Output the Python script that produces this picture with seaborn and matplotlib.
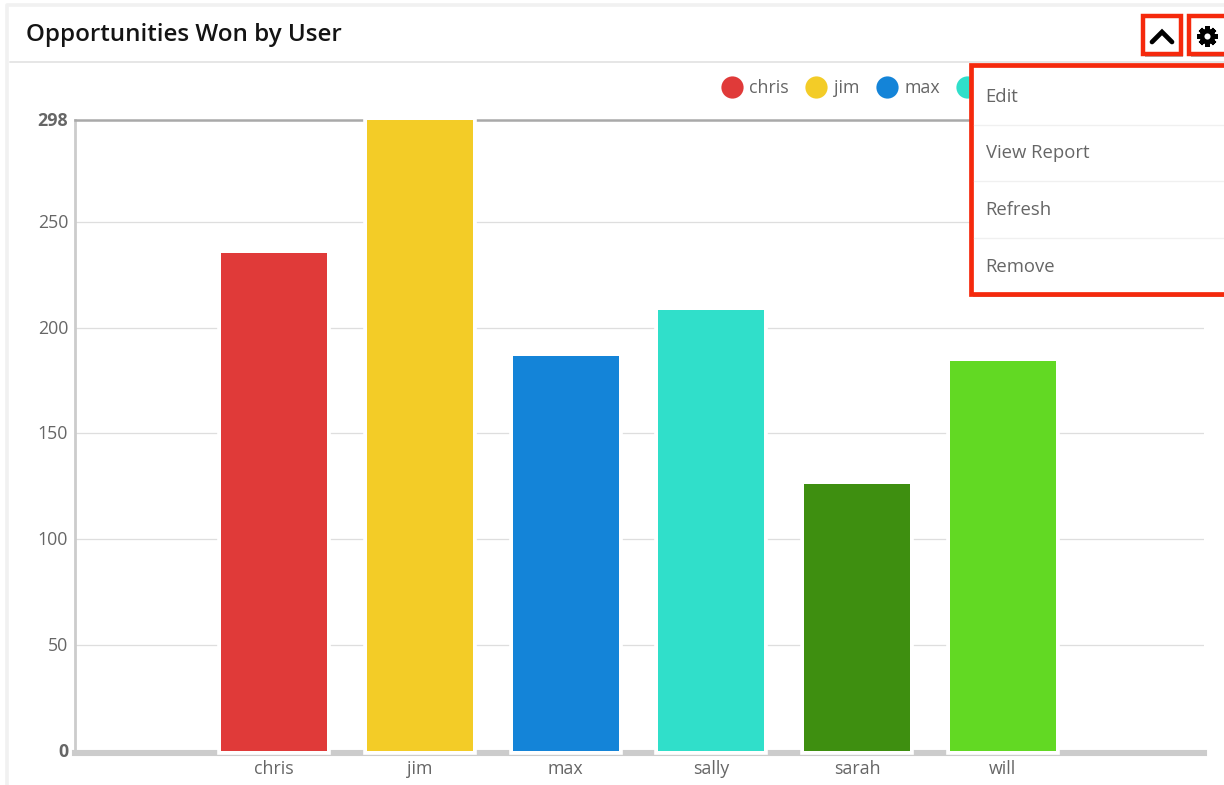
import matplotlib
matplotlib.use("Agg")
import matplotlib.pyplot as plt
import matplotlib.patheffects as pe
from matplotlib.lines import Line2D
from matplotlib.patches import Rectangle
from matplotlib.transforms import ScaledTranslation
import seaborn as sns

users = ["chris", "jim", "max", "sally", "sarah", "will"]
won = [235, 298, 186.5, 208.5, 126, 184]
colors = ["#e03a39", "#f3cc27", "#1484d8", "#30dfca", "#3e8f10", "#62d923"]
yticks = [0, 50, 100, 150, 200, 250, 298]
title = "Opportunities Won by User"
menu_items = ["Edit", "View Report", "Refresh", "Remove"]

sns.set_theme(style="white")
plt.rcParams["font.family"] = ["Open Sans", "DejaVu Sans"]

W, H = 1224, 785
fig = plt.figure(figsize=(W / 100, H / 100), dpi=100, facecolor="white")
ax = fig.add_axes([75 / W, 1 - 751 / H, (1204 - 75) / W, (751 - 120) / H])

sns.barplot(x=users, y=won, hue=users, palette=colors, width=0.727, legend=False,
            saturation=1, ax=ax, zorder=3)
for bar in ax.patches:
    bar.set_clip_on(False)
    bar.set_linewidth(0)
    bar.set_path_effects([pe.withStroke(linewidth=5.5, foreground="white")])

ax.set_xlim(-1.365, 6.38)
ax.set_ylim(0, 298)
ax.set_yticks(yticks)
ax.set_xlabel("")
ax.set_ylabel("")
ax.grid(axis="y", color="#dedede", linewidth=0.9, zorder=1)
ax.set_axisbelow(True)
ax.tick_params(axis="both", length=0, labelsize=12.8, labelcolor="#666666")
ax.tick_params(axis="y", pad=5)
ax.tick_params(axis="x", pad=5)
up = ScaledTranslation(0, 1 / 100, fig.dpi_scale_trans)
for lab in ax.get_yticklabels():
    lab.set_transform(lab.get_transform() + up)
    if lab.get_text() in ("0", "298"):
        lab.set_fontweight("bold")
for side in ("top", "right", "left", "bottom"):
    ax.spines[side].set_zorder(2)
ax.spines["right"].set_visible(False)
ax.spines["top"].set(color="#a9a9a9", linewidth=1.8)
ax.spines["left"].set(color="#cccccc", linewidth=2)
ax.spines["bottom"].set(color="#cccccc", linewidth=4.4)
ax.spines["bottom"].set_position(("outward", 1.5))

handles = [Line2D([], [], marker="o", linestyle="", markersize=16, color=c,
                  markeredgewidth=0) for c in colors]
ax.legend(handles, users, ncol=6, frameon=False, loc="center left",
          bbox_to_anchor=(718 / W, 1 - 88 / H), bbox_transform=fig.transFigure,
          fontsize=12.8, labelcolor="#666666", handletextpad=0.2, columnspacing=0.78,
          handlelength=1.55, borderpad=0, borderaxespad=0)

# dashboard card chrome, in pixel coordinates
ov = fig.add_axes([0, 0, 1, 1], facecolor="none", zorder=5)
ov.set_xlim(0, W)
ov.set_ylim(H, 0)
ov.axis("off")

ov.plot([7, 7, W], [H, 5, 5], color="#f1f1f1", linewidth=2.6, solid_joinstyle="round")
ov.plot([10, W], [62, 62], color="#e6e6e6", linewidth=1.4)
ov.text(26, 35, title, fontsize=17.4, color="#141414", va="center", ha="left", fontweight=600)

RED = "#f5290c"
shadow = [pe.SimplePatchShadow(offset=(1.5, -2.5), shadow_rgbFace="#000000", alpha=0.3), pe.Normal()]
for x0, x1 in [(1143, 1181), (1189, 1240)]:
    ov.add_patch(Rectangle((x0, 16), x1 - x0, 38, facecolor="white", edgecolor=RED,
                           linewidth=3.2, path_effects=shadow))
ov.plot([1152, 1162, 1172], [42, 32, 42], color="black", linewidth=3.4, solid_capstyle="round",
        solid_joinstyle="miter")
ov.plot([1207], [36], marker=(8, 2, 0), markersize=14.5, color="black", markeredgewidth=3.4)
ov.plot([1207], [36], marker="o", markersize=11.5, color="black", markeredgewidth=0)
ov.plot([1207], [36], marker="o", markersize=4.4, color="white", markeredgewidth=0)

ov.add_patch(Rectangle((970.5, 65), 300, 229, facecolor="white", edgecolor=RED,
                       linewidth=3.4, path_effects=shadow))
for y in (124.5, 181, 237.5):
    ov.plot([974, W], [y, y], color="#f0f0f0", linewidth=1)
for y, item in zip((97, 153.5, 210, 266.5), menu_items):
    ov.text(985.5, y, item, fontsize=13.3, color="#666666", va="center", ha="left")

fig.savefig("out.png", dpi=100, facecolor="white")
